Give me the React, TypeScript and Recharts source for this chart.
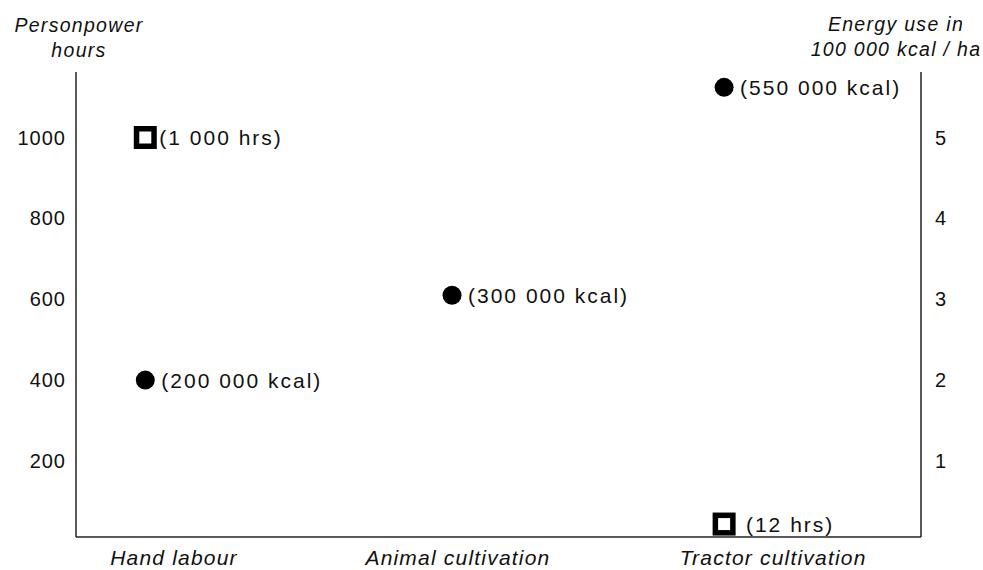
import { ScatterChart, Scatter, XAxis, YAxis } from "recharts";

// x positions along a 0-100 horizontal scale
const methods = ["Hand labour", "Animal cultivation", "Tractor cultivation"];
const methodTicks = [11.6, 45.2, 82.5];

const hoursX = [8.2, 76.7];
const hoursY = [1000, 44];
const hoursLabels = ["(1 000 hrs)", " (12 hrs)"];

const energyX = [8.2, 44.5, 76.7];
const energyY = [2.0, 3.05, 5.62];
const energyLabels = ["(200 000 kcal)", "(300 000 kcal)", "(550 000 kcal)"];

const hoursTicks = [200, 400, 600, 800, 1000];
const energyTicks = [1, 2, 3, 4, 5];

const hoursData = hoursX.map((x, i) => ({ x, y: hoursY[i], label: hoursLabels[i] }));
const energyData = energyX.map((x, i) => ({ x, y: energyY[i], label: energyLabels[i] }));

const FONT = "'Liberation Sans', Arial, Helvetica, sans-serif";
const INK = "#111";

function SquareMark(props: any) {
    const { cx, cy, payload } = props;
    return (
        <g>
            <rect x={cx - 8.75} y={cy - 8.75} width={17.5} height={17.5} fill="none" stroke="#000" strokeWidth={5.5} />
            <text x={cx + 14} y={cy} dy="0.36em" fontSize={21} fill={INK} fontFamily={FONT} letterSpacing={2} style={{ whiteSpace: "pre" }}>
                {payload.label}
            </text>
        </g>
    );
}

function DotMark(props: any) {
    const { cx, cy, payload } = props;
    return (
        <g>
            <circle cx={cx} cy={cy} r={9.5} fill="#000" />
            <text x={cx + 16} y={cy} dy="0.36em" fontSize={21} fill={INK} fontFamily={FONT} letterSpacing={2}>
                {payload.label}
            </text>
        </g>
    );
}

function AxisTitle({ anchorX, lines, baseY }: { anchorX: number; lines: string[]; baseY: number[] }) {
    return (
        <g>
            {lines.map((l, i) => (
                <text key={i} x={anchorX} y={baseY[i]} textAnchor="middle" fontSize={19.5} fontStyle="italic" fill={INK} fontFamily={FONT} letterSpacing={1.3}>
                    {l}
                </text>
            ))}
        </g>
    );
}

export default function App() {
    return (
        <div style={{ position: "absolute", left: 0, top: 0, background: "#fff" }}>
            <ScatterChart width={983} height={570} margin={{ top: 72, right: 0, bottom: 0, left: 0 }}>
                <XAxis
                    type="number"
                    dataKey="x"
                    domain={[0, 100]}
                    ticks={methodTicks}
                    tickFormatter={(v: number) => methods[methodTicks.indexOf(v)] ?? ""}
                    height={33}
                    tickSize={0}
                    tickMargin={13}
                    axisLine={{ stroke: "#222", strokeWidth: 1.5 }}
                    tick={{ fontSize: 21, fontStyle: "italic", fill: INK, fontFamily: FONT, letterSpacing: 1.2 }}
                    interval={0}
                />
                <YAxis
                    yAxisId="hours"
                    type="number"
                    dataKey="y"
                    domain={[12, 1162]}
                    ticks={hoursTicks}
                    width={76}
                    tickSize={0}
                    tickMargin={10}
                    axisLine={{ stroke: "#222", strokeWidth: 1.5 }}
                    tick={{ fontSize: 20, fill: INK, fontFamily: FONT, letterSpacing: 1 }}
                    label={<AxisTitle anchorX={79} lines={["Personpower", "hours"]} baseY={[32, 57]} />}
                />
                <YAxis
                    yAxisId="energy"
                    orientation="right"
                    type="number"
                    dataKey="y"
                    domain={[0.06, 5.81]}
                    ticks={energyTicks}
                    width={62}
                    tickSize={0}
                    tickMargin={14}
                    axisLine={{ stroke: "#222", strokeWidth: 1.5 }}
                    tick={{ fontSize: 20, fill: INK, fontFamily: FONT }}
                    label={<AxisTitle anchorX={896} lines={["Energy use in", "100 000 kcal / ha"]} baseY={[31, 56]} />}
                />
                <Scatter yAxisId="hours" data={hoursData} shape={SquareMark} isAnimationActive={false} />
                <Scatter yAxisId="energy" data={energyData} shape={DotMark} isAnimationActive={false} />
            </ScatterChart>
        </div>
    );
}
